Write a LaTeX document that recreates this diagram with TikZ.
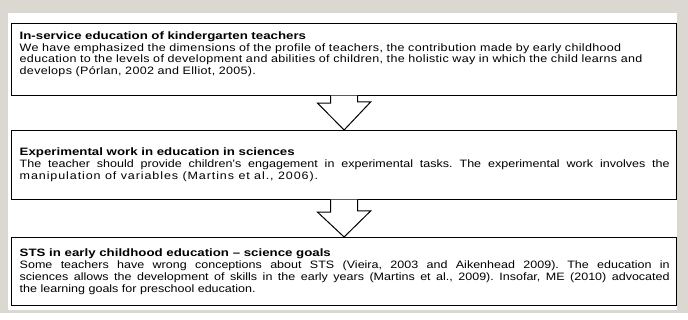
\documentclass[tikz,border=0pt]{standalone}
\usepackage{fontspec}
\setmainfont{Liberation Sans}[FakeStretch=1.17]
\newfontfamily\headfont{Liberation Sans}[FakeStretch=1.24]
\definecolor{framegray}{RGB}{218,216,208}
\begin{document}
\begin{tikzpicture}[x=1pt, y=-1pt,
    box/.style={draw, line width=1.2pt, anchor=north west, minimum width=665pt, inner sep=0pt},
    txt/.style={anchor=north west, text width=650pt, inner sep=0pt, font=\fontsize{10.7}{11.7}\selectfont\frenchspacing},
    hollow/.style={draw, fill=white, line width=1pt, line join=miter}]
    % frame
    \fill[framegray] (0,0) rectangle (688,313);
    \fill[white] (8,13) rectangle (677,310);
    \useasboundingbox (0,0) rectangle (688,320);

    \node[box, minimum height=72pt] (b1) at (11,23) {};
    \node[box, minimum height=69pt] (b2) at (11,130) {};
    \node[box, minimum height=68pt] (b3) at (11,237) {};

    \node[txt, align=left] (t1) at (19.5,31.5) {{\headfont\bfseries In-service education of  kindergarten teachers}\\
        \addfontfeature{LetterSpace=3}%
        We have emphasized the dimensions of the profile of teachers, the contribution made by early childhood\\
        education to the levels of development and abilities of children, the holistic way in which the child learns and\\
        develops (Pórlan, 2002 and Elliot, 2005).};
    \node[txt, align=justify] (t2) at (19.5,148) {{\headfont\bfseries Experimental work in education in sciences}\\
        The teacher should provide children’s engagement in experimental tasks. The experimental work involves the\linebreak
        {\addfontfeature{LetterSpace=8.5}manipulation of variables (Martins et al., 2006).}};
    \node[txt, align=justify] (t3) at (19.5,249) {{\headfont\bfseries STS in early childhood education – science goals}\\
        Some teachers have wrong conceptions about STS (Vieira, 2003 and Aikenhead 2009). The education in\linebreak
        sciences allows the development of skills in the early years (Martins et al., 2009). Insofar, ME (2010) advocated\linebreak
        the learning goals for preschool education.};

    % arrows
    \draw[hollow] ([xshift=-13.5pt,yshift=0.6pt]b1.south) -- ++(0,7.6) -- ++(-13,0) -- (b2.north)
        -- ++(26.5,-28) -- ++(-13,0) -- ([xshift=13.5pt,yshift=0.6pt]b1.south);
    \draw[hollow] ([xshift=-13.5pt,yshift=0.6pt]b2.south) -- ++(0,12.6) -- ++(-13,0) -- (b3.north)
        -- ++(26.5,-26) -- ++(-13,0) -- ([xshift=13.5pt,yshift=0.6pt]b2.south);
\end{tikzpicture}
\end{document}
